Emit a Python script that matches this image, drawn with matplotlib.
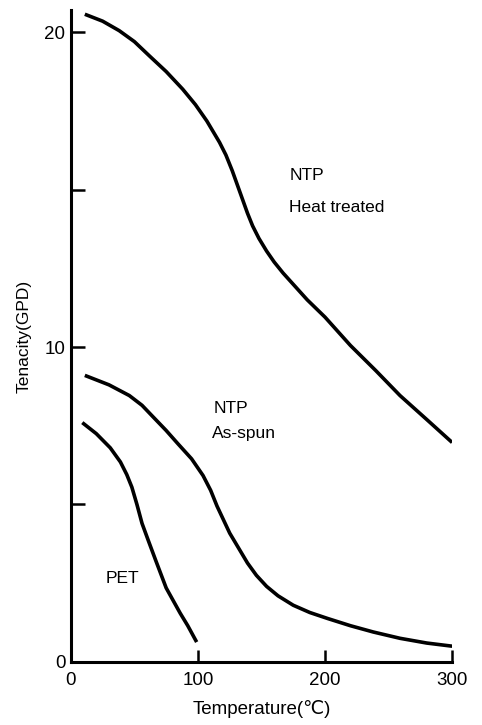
import matplotlib.pyplot as plt

# values
heat_T = [11, 25, 38, 50, 62, 75, 88, 98, 107, 117, 122, 127, 131, 135, 139, 143, 148, 154, 160, 167, 186, 200, 220, 240, 259, 280, 300]
heat_v = [20.57, 20.35, 20.05, 19.7, 19.24, 18.75, 18.19, 17.7, 17.18, 16.5, 16.1, 15.6, 15.15, 14.7, 14.25, 13.85, 13.45, 13.05, 12.7, 12.35, 11.5, 10.95, 10.05, 9.25, 8.46, 7.7, 6.97]

spun_T = [11, 30, 46, 56, 65, 75, 84, 95, 104, 110, 115, 125, 139, 146, 154, 163, 175, 188, 202, 220, 238, 259, 280, 300]
spun_v = [9.1, 8.8, 8.46, 8.15, 7.77, 7.35, 6.94, 6.45, 5.92, 5.45, 4.95, 4.09, 3.14, 2.75, 2.4, 2.1, 1.8, 1.57, 1.38, 1.15, 0.95, 0.75, 0.6, 0.5]

pet_T = [9, 20, 31, 39, 44, 48, 52, 56, 61, 67, 75, 86, 92, 99]
pet_v = [7.6, 7.25, 6.8, 6.35, 5.95, 5.55, 5.0, 4.4, 3.85, 3.2, 2.35, 1.55, 1.15, 0.63]

xticks = [0, 100, 200, 300]
yticks_major = [0, 10, 20]
yticks_minor = [5, 15]

plt.rcParams['font.family'] = ['Liberation Sans', 'DejaVu Sans']

fig = plt.figure(figsize=(4.82, 7.25), dpi=100)
ax = fig.add_axes([0.147, 0.087, 0.791, 0.899])

for T, v in [(heat_T, heat_v), (spun_T, spun_v), (pet_T, pet_v)]:
    ax.plot(T, v, color="black", lw=2.6, solid_capstyle="butt", solid_joinstyle="round")

ax.text(172, 15.3, "NTP", fontsize=12.5)
ax.text(172, 14.3, "Heat treated", fontsize=12.5)
ax.text(112, 7.9, "NTP", fontsize=12.5)
ax.text(111, 7.1, "As-spun", fontsize=12.5)
ax.text(27, 2.5, "PET", fontsize=12.5)

ax.set_xlim(0, 300)
ax.set_ylim(0, 20.7)
ax.set_xticks(xticks)
ax.set_yticks(yticks_major)
ax.set_yticks(yticks_minor, minor=True)
ax.tick_params(axis="both", which="both", direction="in", width=1.8, labelsize=13.5)
ax.tick_params(axis="x", length=9, pad=7)
ax.tick_params(axis="y", which="both", length=10, pad=4)

for s in ["top", "right"]:
    ax.spines[s].set_visible(False)
for s in ["left", "bottom"]:
    ax.spines[s].set_linewidth(2.2)

ax.set_xlabel("Temperature(℃)", fontsize=13.5, labelpad=8)
ax.set_ylabel("Tenacity(GPD)", fontsize=12.5, labelpad=9)

plt.savefig("out.png", dpi=100)
